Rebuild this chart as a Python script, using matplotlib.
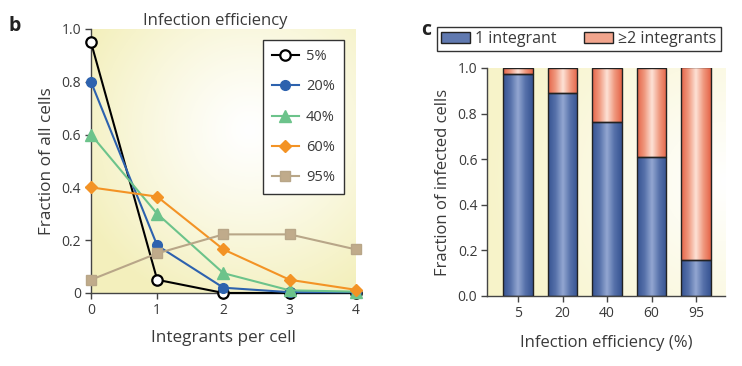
import numpy as np
import matplotlib
matplotlib.use("Agg")
import matplotlib.pyplot as plt
from matplotlib.colors import LinearSegmentedColormap
from matplotlib.patches import Patch

plt.rcParams['font.family'] = ['Open Sans', 'DejaVu Sans']

# panel b: fraction of all cells vs integrants per cell
integrants = [0, 1, 2, 3, 4]
eff_labels = ["5%", "20%", "40%", "60%", "95%"]
frac_5 = [0.95, 0.05, 0.0, 0.0, 0.0]
frac_20 = [0.80, 0.18, 0.02, 0.003, 0.003]
frac_40 = [0.60, 0.30, 0.075, 0.01, 0.005]
frac_60 = [0.40, 0.365, 0.165, 0.05, 0.012]
frac_95 = [0.05, 0.15, 0.222, 0.222, 0.165]

# panel c: fraction of infected cells
efficiency = ["5", "20", "40", "60", "95"]
one_int = [0.975, 0.89, 0.765, 0.61, 0.16]
multi_int = [0.025, 0.11, 0.235, 0.39, 0.845]

TXT = "#3a3a3a"


def background(ax, center, yellow, scale, power):
    ny, nx = 200, 200
    xx, yy = np.meshgrid(np.linspace(0, 1, nx), np.linspace(0, 1, ny))
    d = np.sqrt((xx - center[0]) ** 2 + (yy - center[1]) ** 2)
    t = np.clip(d / scale, 0, 1) ** power
    img = np.ones((ny, nx, 3)) * (1 - t[..., None]) + np.array(yellow)[None, None, :] * t[..., None]
    ax.imshow(img, extent=(0, 1, 0, 1), transform=ax.transAxes, origin="lower",
              aspect="auto", zorder=0, interpolation="bilinear")


fig = plt.figure(figsize=(7.42, 3.66), dpi=100)

# ---------- panel b ----------
ax1 = fig.add_axes([0.1226, 0.1995, 0.357, 0.7213])
background(ax1, (0.6, 0.62), (0.955, 0.94, 0.74), 0.7, 1.2)
series = [(frac_5, "black", "o", "white", 7.5),
          (frac_20, "#2d62ae", "o", "#2d62ae", 7),
          (frac_40, "#6cc38b", "^", "#6cc38b", 8),
          (frac_60, "#f39325", "D", "#f39325", 6),
          (frac_95, "#b8a688", "s", "#c0ab8b", 7)]
for i, (vals, col, mk, fc, ms) in enumerate(series):
    ax1.plot(integrants, vals, color=col, marker=mk, markerfacecolor=fc,
             markeredgecolor=col, markeredgewidth=1.6 if i == 0 else 1,
             markersize=ms, linewidth=1.5, label=eff_labels[i], clip_on=False,
             zorder=3 + i)
ax1.set_xlim(0, 4)
ax1.set_ylim(0, 1.0)
ax1.set_xticks(integrants)
ax1.set_yticks([0, 0.2, 0.4, 0.6, 0.8, 1.0])
ax1.set_yticklabels(["0", "0.2", "0.4", "0.6", "0.8", "1.0"])
for s in ["top", "right"]:
    ax1.spines[s].set_visible(False)
for s in ["left", "bottom"]:
    ax1.spines[s].set_color("#444444")
    ax1.spines[s].set_linewidth(1)
ax1.tick_params(direction="out", length=4, width=1, color="#444444",
                labelsize=10, labelcolor=TXT, pad=3)
ax1.set_xlabel("Integrants per cell", fontsize=12.3, color=TXT, labelpad=9)
ax1.set_ylabel("Fraction of all cells", fontsize=12.3, color=TXT, labelpad=5)
ax1.set_title("Infection efficiency", fontsize=12, color=TXT, pad=2, x=0.47)
leg1 = ax1.legend(loc="upper left", bbox_to_anchor=(0.649, 0.957), borderaxespad=0,
                  fontsize=10.5, labelspacing=1.05, handlelength=1.9,
                  handletextpad=0.45, borderpad=0.6, fancybox=False, framealpha=1,
                  edgecolor="#333333", facecolor="white")
leg1.get_frame().set_linewidth(1)
for t in leg1.get_texts():
    t.set_color(TXT)
fig.text(0.012, 0.915, "b", fontsize=14, fontweight="bold", color="#222222")

# ---------- panel c ----------
ax2 = fig.add_axes([0.6563, 0.1913, 0.3208, 0.623])
background(ax2, (1.0, 0.5), (0.97, 0.955, 0.79), 1.0, 1.0)
x = np.arange(len(efficiency))
blue_cmap = LinearSegmentedColormap.from_list("b", ["#375392", "#5671aa", "#93a7d1", "#5671aa", "#375392"])
red_cmap = LinearSegmentedColormap.from_list("r", ["#e56448", "#f09a80", "#fde2d6", "#f09a80", "#e56448"])
grad = np.linspace(0, 1, 100).reshape(1, -1)
bars1 = ax2.bar(x, one_int, width=0.66, facecolor="none", edgecolor="#222222",
                linewidth=1, zorder=3)
bars2 = ax2.bar(x, multi_int, bottom=one_int, width=0.66, facecolor="none",
                edgecolor="#222222", linewidth=1, zorder=3)
for bars, cmap in [(bars1, blue_cmap), (bars2, red_cmap)]:
    for b in bars:
        x0, y0 = b.get_x(), b.get_y()
        ax2.imshow(grad, cmap=cmap, extent=(x0, x0 + b.get_width(), y0, y0 + b.get_height()),
                   aspect="auto", zorder=2, interpolation="bilinear")
ax2.set_xlim(-0.7, 4.65)
ax2.set_ylim(0, 1.0)
ax2.set_xticks(x)
ax2.set_xticklabels(efficiency)
ax2.set_yticks([0, 0.2, 0.4, 0.6, 0.8, 1.0])
ax2.set_yticklabels(["0.0", "0.2", "0.4", "0.6", "0.8", "1.0"])
for s in ["top", "right"]:
    ax2.spines[s].set_visible(False)
for s in ["left", "bottom"]:
    ax2.spines[s].set_color("#444444")
    ax2.spines[s].set_linewidth(1)
ax2.tick_params(direction="out", length=4, width=1, color="#444444",
                labelsize=10, labelcolor=TXT, pad=3)
ax2.set_xlabel("Infection efficiency (%)", fontsize=12, color=TXT, labelpad=10)
ax2.set_ylabel("Fraction of infected cells", fontsize=12, color=TXT, labelpad=5)
handles = [Patch(facecolor="#6079b0", edgecolor="#222222", label="1 integrant"),
           Patch(facecolor="#f2a58d", edgecolor="#222222", label="≥2 integrants")]
leg2 = fig.legend(handles=handles, loc="upper left", bbox_to_anchor=(437 / 742, 1 - 27 / 366),
                  ncol=2, fontsize=11.5, fancybox=False, framealpha=1, edgecolor="#333333",
                  borderpad=0.25, handlelength=1.8, handleheight=0.75, handletextpad=0.35,
                  columnspacing=1.7, borderaxespad=0)
leg2.get_frame().set_linewidth(1)
for t in leg2.get_texts():
    t.set_color(TXT)
fig.text(0.568, 0.905, "c", fontsize=14, fontweight="bold", color="#222222")

fig.savefig("out.png", dpi=100)
